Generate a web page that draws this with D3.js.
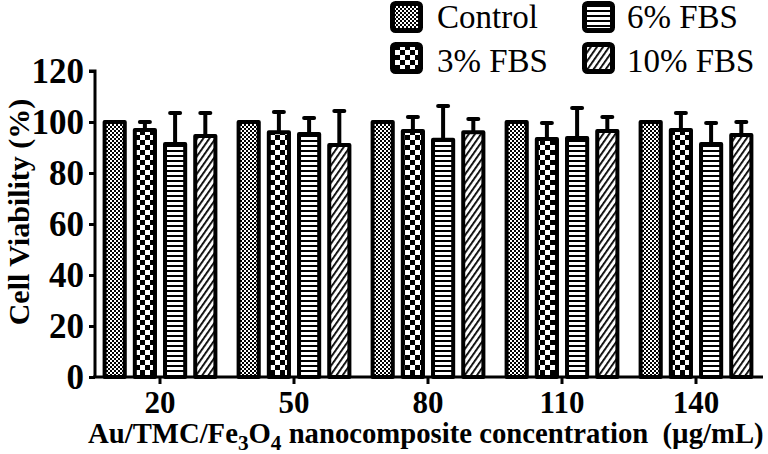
<!DOCTYPE html>
<html>
<head>
<meta charset="utf-8">
<script src="https://cdn.jsdelivr.net/npm/d3@7"></script>
<style>
  body { margin: 0; background: #fff; }
</style>
</head>
<body>
<div id="vis_container"></div>
<script>
var concentrations = ["20", "50", "80", "110", "140"];
var seriesNames = ["Control", "3% FBS", "6% FBS", "10% FBS"];
var control = [100, 100, 100, 100, 100];
var controlErr = [0, 0, 0, 0, 0];
var fbs3 = [96.9, 96.0, 96.5, 93.3, 96.9];
var fbs3Err = [3.1, 7.9, 5.5, 6.3, 6.6];
var fbs6 = [91.4, 95.3, 93.0, 93.7, 91.4];
var fbs6Err = [12.1, 6.3, 13.3, 11.8, 8.2];
var fbs10 = [94.5, 91.0, 96.0, 96.5, 94.9];
var fbs10Err = [9.0, 13.3, 5.2, 5.5, 5.1];
var yTicks = [0, 20, 40, 60, 80, 100, 120];

var series = [
    {name: seriesNames[0], values: control, err: controlErr, pat: "p-control"},
    {name: seriesNames[1], values: fbs3, err: fbs3Err, pat: "p-fbs3"},
    {name: seriesNames[2], values: fbs6, err: fbs6Err, pat: "p-fbs6"},
    {name: seriesNames[3], values: fbs10, err: fbs10Err, pat: "p-fbs10"}
];

var width = 768, height = 454;
var serif = "'Liberation Serif', 'Times New Roman', 'DejaVu Serif', serif";

var x = d3.scaleBand().domain(concentrations).range([93, 763]);
var inner = d3.scaleBand().domain(seriesNames).range([-58, 58]).paddingInner(0.2).paddingOuter(0.02);
var y = d3.scaleLinear().domain([0, 120]).range([377, 71]);

var svg = d3.select("#vis_container").append("svg")
    .attr("width", width)
    .attr("height", height)
    .attr("font-family", serif);

// fill patterns
var defs = svg.append("defs");
var p = defs.append("pattern").attr("id", "p-control").attr("patternUnits", "userSpaceOnUse")
    .attr("width", 4).attr("height", 4);
p.append("rect").attr("width", 4).attr("height", 4).attr("fill", "#fff");
p.append("rect").attr("width", 2).attr("height", 2).attr("fill", "#000");
p.append("rect").attr("x", 2).attr("y", 2).attr("width", 2).attr("height", 2).attr("fill", "#000");

p = defs.append("pattern").attr("id", "p-fbs3").attr("patternUnits", "userSpaceOnUse")
    .attr("width", 10).attr("height", 10);
p.append("rect").attr("width", 10).attr("height", 10).attr("fill", "#fff");
p.append("rect").attr("width", 5).attr("height", 5).attr("fill", "#000");
p.append("rect").attr("x", 5).attr("y", 5).attr("width", 5).attr("height", 5).attr("fill", "#000");

p = defs.append("pattern").attr("id", "p-fbs6").attr("patternUnits", "userSpaceOnUse")
    .attr("width", 5).attr("height", 5);
p.append("rect").attr("width", 5).attr("height", 5).attr("fill", "#fff");
p.append("rect").attr("y", 0).attr("width", 5).attr("height", 2).attr("fill", "#000");

p = defs.append("pattern").attr("id", "p-fbs10").attr("patternUnits", "userSpaceOnUse")
    .attr("width", 5).attr("height", 5).attr("patternTransform", "rotate(35)");
p.append("rect").attr("width", 5).attr("height", 5).attr("fill", "#fff");
p.append("rect").attr("width", 1.8).attr("height", 5).attr("fill", "#000");

// bars
var bw = inner.bandwidth();
series.forEach(function(s) {
    var g = svg.append("g");
    concentrations.forEach(function(c, i) {
        var cx = x(c) + x.bandwidth() / 2 + inner(s.name) + bw / 2;
        if (s.err[i] > 0) {
            g.append("line")
                .attr("x1", cx).attr("x2", cx)
                .attr("y1", y(s.values[i])).attr("y2", y(s.values[i] + s.err[i]))
                .attr("stroke", "#000").attr("stroke-width", 4);
            g.append("line")
                .attr("x1", cx - 5).attr("x2", cx + 5)
                .attr("y1", y(s.values[i] + s.err[i])).attr("y2", y(s.values[i] + s.err[i]))
                .attr("stroke", "#000").attr("stroke-width", 4).attr("stroke-linecap", "round");
        }
        g.append("rect")
            .attr("x", cx - bw / 2 + 2)
            .attr("y", y(s.values[i]))
            .attr("width", bw - 4)
            .attr("height", y(0) - y(s.values[i]))
            .attr("fill", "url(#" + s.pat + ")")
            .attr("stroke", "#000")
            .attr("stroke-width", 4)
            .attr("stroke-linejoin", "round");
    });
});

// axes
var yAxis = svg.append("g")
    .attr("transform", "translate(95,0)")
    .call(d3.axisLeft(y).tickValues(yTicks).tickSize(6).tickPadding(5));
yAxis.attr("font-family", serif);
yAxis.selectAll("text").style("font-family", serif).style("font-size", "35px").style("font-weight", "bold").attr("dy", "0.34em");

var xAxis = svg.append("g")
    .attr("transform", "translate(0,377)")
    .call(d3.axisBottom(x).tickSize(7).tickPadding(5).tickSizeOuter(0));
xAxis.attr("font-family", serif);
xAxis.selectAll("text").style("font-family", serif).style("font-size", "31px").style("font-weight", "bold").attr("dy", "0.78em");

svg.selectAll(".domain").attr("stroke", "#000").attr("stroke-width", 3);
svg.selectAll(".tick line").attr("stroke", "#000").attr("stroke-width", 3);
yAxis.select(".domain").attr("d", "M-6," + y(120) + "H0V" + y(0));
xAxis.select(".domain").attr("d", "M93,0H763");

// axis titles
var xt = svg.append("text")
    .attr("x", 88).attr("y", 443)
    .style("font-family", serif)
    .style("font-size", "27px").style("font-weight", "bold");
xt.append("tspan").text("Au/TMC/Fe");
xt.append("tspan").attr("class", "sub").attr("dy", 7).text("3");
xt.append("tspan").attr("dy", -7).text("O");
xt.append("tspan").attr("class", "sub").attr("dy", 7).text("4");
xt.append("tspan").attr("dy", -7).text(" nanocomposite concentration\u00a0 (\u00b5g/mL)");
xt.selectAll(".sub").style("font-size", "20px");
// stretch title to the reference width
var len = xt.node().getComputedTextLength();
var fs = 27 * 676 / len;
xt.style("font-size", fs + "px");
xt.selectAll(".sub").style("font-size", (fs * 0.74) + "px");

svg.append("text")
    .attr("transform", "translate(29,212) rotate(-90)")
    .style("text-anchor", "middle")
    .style("font-family", serif)
    .style("font-size", "30px").style("font-weight", "bold")
    .text("Cell Viability (%)");

// legend
var legendPos = [[390, 1, 437, 28], [390, 42, 437, 72], [582, 1, 627, 28], [582, 42, 627, 72]];
series.forEach(function(s, i) {
    var lp = legendPos[i];
    svg.append("rect")
        .attr("x", lp[0] + 2.5).attr("y", lp[1] + 2.5)
        .attr("width", 28).attr("height", 27)
        .attr("rx", 3)
        .attr("fill", "url(#" + s.pat + ")")
        .attr("stroke", "#000").attr("stroke-width", 5);
    svg.append("text")
        .attr("x", lp[2]).attr("y", lp[3])
        .style("font-family", serif)
        .style("font-size", "33px")
        .text(s.name);
});
</script>
</body>
</html>
